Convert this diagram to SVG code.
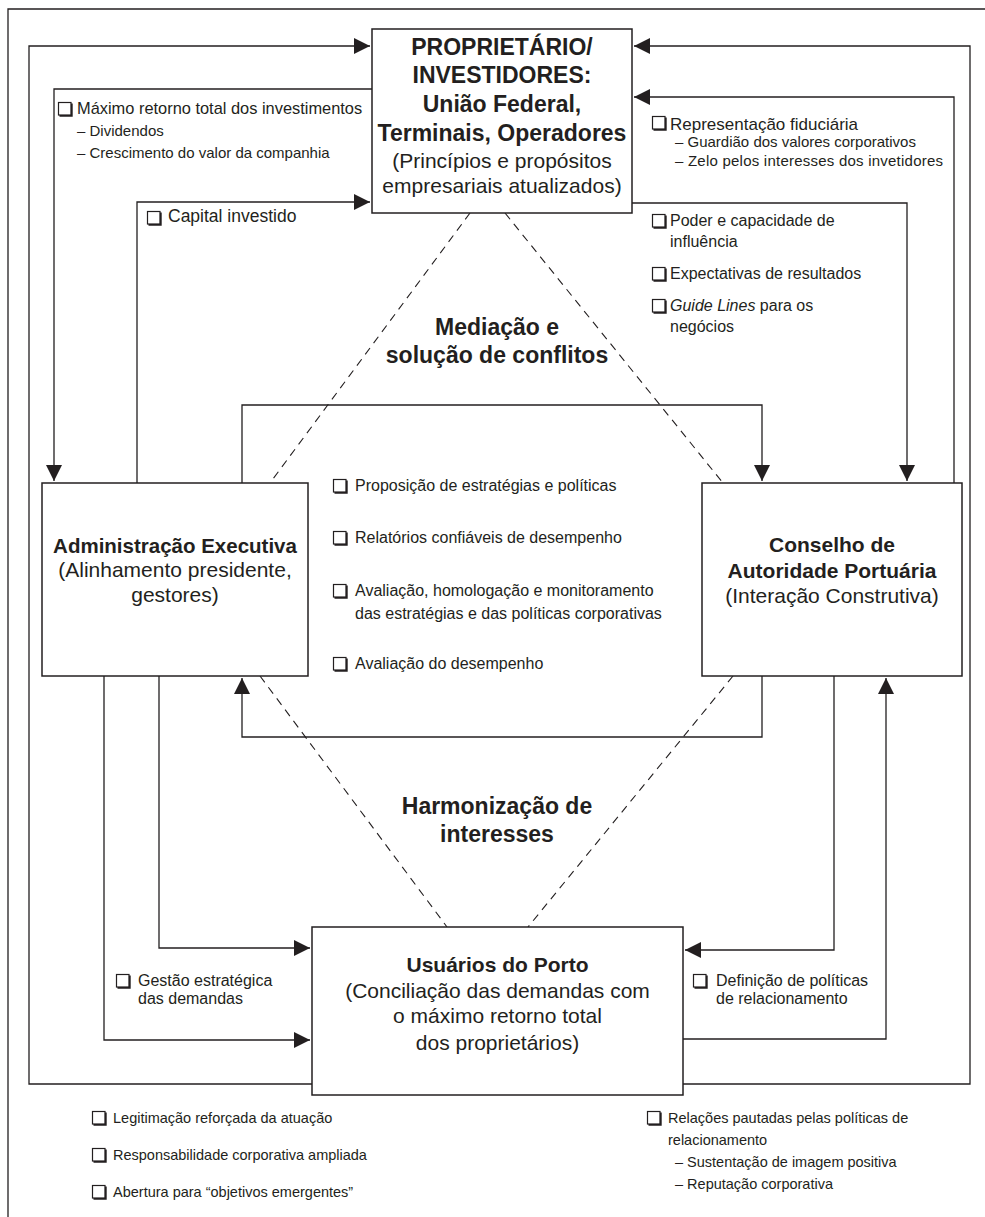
<svg xmlns="http://www.w3.org/2000/svg" xmlns:xlink="http://www.w3.org/1999/xlink" width="985" height="1217" viewBox="0 0 985 1217">
<style>
.ln{fill:none;stroke:#231f20;stroke-width:1.3}
.dash{fill:none;stroke:#231f20;stroke-width:1.1;stroke-dasharray:8 6}
.box{fill:#fff;stroke:#231f20;stroke-width:1.5}
.t{font-family:"Liberation Sans",Arial,Helvetica,sans-serif;fill:#231f20}
.b{font-weight:bold}
.c{text-anchor:middle}
.h{font-size:23px}
.n{font-size:21px}
.s{font-size:16px}
.xs{font-size:15px}
.bt{font-size:14.5px}
</style>
<defs>
<marker id="ar" viewBox="0 0 10 10" refX="10" refY="5" markerUnits="userSpaceOnUse" markerWidth="16" markerHeight="16" orient="auto">
<path d="M0,0 L10,5 L0,10 z" fill="#231f20"/>
</marker>
<g id="cb">
<rect x="0.5" y="0.5" width="12.5" height="12.5" fill="#fff" stroke="#231f20" stroke-width="1.2"/>
<path d="M13.8,1.5 V13.8 H1.5" fill="none" stroke="#231f20" stroke-width="1.8"/>
</g>
</defs>
<rect width="985" height="1217" fill="#fff"/>
<path class="ln" d="M8,1217 V9 H985"/>
<g id="connectors">
<path class="ln" marker-end="url(#ar)" d="M312,1084 H29 V46 H370"/>
<path class="ln" marker-end="url(#ar)" d="M372,89 H54 V481"/>
<path class="ln" marker-end="url(#ar)" d="M137,483 V202 H370"/>
<path class="ln" marker-end="url(#ar)" d="M683,1084 H970 V46 H634"/>
<path class="ln" marker-end="url(#ar)" d="M954,483 V97 H634"/>
<path class="ln" marker-end="url(#ar)" d="M632,203 H907 V481"/>
<path class="ln" marker-end="url(#ar)" d="M242,483 V405 H762 V481"/>
<path class="ln" marker-end="url(#ar)" d="M762,676 V737 H242 V678"/>
<path class="ln" marker-end="url(#ar)" d="M159,676 V948 H310"/>
<path class="ln" marker-end="url(#ar)" d="M104,676 V1040 H310"/>
<path class="ln" marker-end="url(#ar)" d="M834,676 V950 H685"/>
<path class="ln" marker-end="url(#ar)" d="M683,1039 H886 V678"/>
<path class="dash" d="M470,213 L270,483"/>
<path class="dash" d="M505,213 L723,483"/>
<path class="dash" d="M260,676 L447,927"/>
<path class="dash" d="M733,676 L528,927"/>
</g>
<g id="proprietario">
<rect class="box" x="372" y="29" width="260" height="184"/>
<text class="t b h c" x="502" y="55">PROPRIETÁRIO/</text>
<text class="t b h c" x="502" y="83">INVESTIDORES:</text>
<text class="t b h c" x="502" y="112">União Federal,</text>
<text class="t b h c" x="502" y="141">Terminais, Operadores</text>
<text class="t n c" x="502" y="168">(Princípios e propósitos</text>
<text class="t n c" x="502" y="193">empresariais atualizados)</text>
</g>
<g id="administracao">
<rect class="box" x="42" y="483" width="266" height="193"/>
<text class="t b c" style="font-size:20.5px" x="175" y="553">Administração Executiva</text>
<text class="t n c" x="175" y="577">(Alinhamento presidente,</text>
<text class="t n c" x="175" y="602">gestores)</text>
</g>
<g id="conselho">
<rect class="box" x="702" y="483" width="260" height="193"/>
<text class="t b c" style="font-size:21px" x="832" y="552">Conselho de</text>
<text class="t b c" style="font-size:21px" x="832" y="578">Autoridade Portuária</text>
<text class="t n c" x="832" y="603">(Interação Construtiva)</text>
</g>
<g id="usuarios">
<rect class="box" x="312" y="927" width="371" height="168"/>
<text class="t b c" style="font-size:21px" x="497.5" y="972">Usuários do Porto</text>
<text class="t n c" x="497.5" y="998">(Conciliação das demandas com</text>
<text class="t n c" x="497.5" y="1023">o máximo retorno total</text>
<text class="t n c" x="497.5" y="1050">dos proprietários)</text>
</g>
<g id="mediacao">
<text class="t b h c" x="497" y="335">Mediação e</text>
<text class="t b h c" x="497" y="363">solução de conflitos</text>
</g>
<g id="harmonizacao">
<text class="t b h c" x="497" y="814">Harmonização de</text>
<text class="t b h c" x="497" y="842">interesses</text>
</g>
<g id="label-retorno">
<use xlink:href="#cb" href="#cb" x="58" y="102"/>
<text class="t" style="font-size:16.4px" x="77" y="114">Máximo retorno total dos investimentos</text>
<text class="t xs" x="77" y="136">– Dividendos</text>
<text class="t xs" x="77" y="158">– Crescimento do valor da companhia</text>
</g>
<g id="label-capital">
<use xlink:href="#cb" href="#cb" x="147" y="211"/>
<text class="t" style="font-size:17.5px" x="168" y="222">Capital investido</text>
</g>
<g id="label-representacao">
<use xlink:href="#cb" href="#cb" x="652" y="116"/>
<text class="t" style="font-size:17px" x="670" y="130">Representação fiduciária</text>
<text class="t xs" x="675" y="147">– Guardião dos valores corporativos</text>
<text class="t xs" x="675" y="166" textLength="268" lengthAdjust="spacing">– Zelo pelos interesses dos invetidores</text>
</g>
<g id="label-poder">
<use xlink:href="#cb" href="#cb" x="652" y="214"/>
<text class="t s" x="670" y="226">Poder e capacidade de</text>
<text class="t s" x="670" y="247">influência</text>
<use xlink:href="#cb" href="#cb" x="652" y="267"/>
<text class="t s" x="670" y="279">Expectativas de resultados</text>
<use xlink:href="#cb" href="#cb" x="652" y="299"/>
<text class="t s" x="670" y="311"><tspan font-style="italic">Guide Lines</tspan> para os</text>
<text class="t s" x="670" y="332">negócios</text>
</g>
<g id="label-centro">
<use xlink:href="#cb" href="#cb" x="333" y="479"/>
<text class="t s" x="355" y="491">Proposição de estratégias e políticas</text>
<use xlink:href="#cb" href="#cb" x="333" y="531"/>
<text class="t s" x="355" y="543">Relatórios confiáveis de desempenho</text>
<use xlink:href="#cb" href="#cb" x="333" y="584"/>
<text class="t s" x="355" y="596">Avaliação, homologação e monitoramento</text>
<text class="t s" x="355" y="619">das estratégias e das políticas corporativas</text>
<use xlink:href="#cb" href="#cb" x="333" y="657"/>
<text class="t s" x="355" y="669">Avaliação do desempenho</text>
</g>
<g id="label-gestao">
<use xlink:href="#cb" href="#cb" x="116" y="974"/>
<text class="t s" x="138" y="986">Gestão estratégica</text>
<text class="t s" x="138" y="1004">das demandas</text>
</g>
<g id="label-definicao">
<use xlink:href="#cb" href="#cb" x="693" y="974"/>
<text class="t s" x="716" y="986">Definição de políticas</text>
<text class="t s" x="716" y="1004">de relacionamento</text>
</g>
<g id="label-rodape-esq">
<use xlink:href="#cb" href="#cb" x="92" y="1111"/>
<text class="t bt" x="113" y="1123">Legitimação reforçada da atuação</text>
<use xlink:href="#cb" href="#cb" x="92" y="1148"/>
<text class="t bt" x="113" y="1160">Responsabilidade corporativa ampliada</text>
<use xlink:href="#cb" href="#cb" x="92" y="1185"/>
<text class="t bt" x="113" y="1197">Abertura para “objetivos emergentes”</text>
</g>
<g id="label-rodape-dir">
<use xlink:href="#cb" href="#cb" x="647" y="1111"/>
<text class="t bt" x="668" y="1123">Relações pautadas pelas políticas de</text>
<text class="t bt" x="668" y="1145">relacionamento</text>
<text class="t bt" x="675" y="1167">– Sustentação de imagem positiva</text>
<text class="t bt" x="675" y="1189">– Reputação corporativa</text>
</g>
</svg>
